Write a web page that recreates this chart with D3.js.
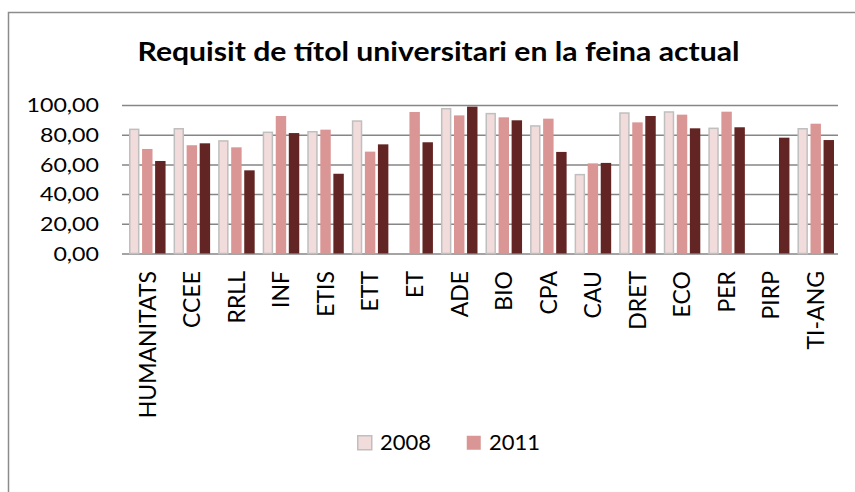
<!DOCTYPE html>
<html>
<head>
<meta charset="utf-8">
<script src="https://cdn.jsdelivr.net/npm/d3@7"></script>
<style>
  body { margin: 0; background: #fff; }
  svg { display: block; font-family: Lato, "Open Sans", sans-serif; }
</style>
</head>
<body>
<div id="chart"></div>
<script>
// dades llegides del grafic
const categories = ["HUMANITATS", "CCEE", "RRLL", "INF", "ETIS", "ETT", "ET", "ADE",
                    "BIO", "CPA", "CAU", "DRET", "ECO", "PER", "PIRP", "TI-ANG"];
const seriesNames = ["2008", "2011", "2014"];
const legendNames = ["2008", "2011"]; // la llegenda original nomes en mostra dos
const values2008 = [83.6, 84.0, 75.8, 81.6, 82.0, 89.2, null, 97.5, 94.2, 85.9, 53.1, 94.6, 95.3, 84.3, null, 84.0];
const values2011 = [70.4, 72.9, 71.5, 92.6, 83.4, 68.6, 95.3, 93.0, 91.7, 90.8, 60.7, 88.3, 93.5, 95.5, null, 87.4];
const values2014 = [62.3, 74.2, 56.0, 81.1, 53.7, 73.5, 74.9, 98.9, 89.7, 68.4, 61.0, 92.6, 84.3, 85.0, 78.0, 76.4];
const yTicks = [0, 20, 40, 60, 80, 100];

const W = 855, H = 492;
const plot = {left: 125, right: 838, top: 105, bottom: 253.5};

const colors = {"2008": "#f2dcdb", "2011": "#d99694", "2014": "#632523"};
const strokes = {"2008": "#bfbfbf", "2011": "none", "2014": "none"};

const loc = d3.formatLocale({decimal: ",", thousands: ".", grouping: [3], currency: ["", "€"]});
const fmt = loc.format(".2f");

const rows = categories.map((c, i) => ({
  cat: c,
  "2008": values2008[i],
  "2011": values2011[i],
  "2014": values2014[i]
}));

const svg = d3.select('#chart').append('svg')
    .attr('width', W)
    .attr('height', H);

// marc exterior del grafic
svg.append('rect')
    .attr('x', 8.5).attr('y', 12.5)
    .attr('width', W + 20).attr('height', H + 20)
    .attr('fill', 'none')
    .attr('stroke', '#8c8c8c')
    .attr('stroke-width', 1.5);

// el text de l'original es una mica mes ample, d'aqui el scale
svg.append('text')
    .attr('transform', 'translate(438.5, 61) scale(1.16, 1)')
    .attr('text-anchor', 'middle')
    .attr('font-weight', 'bold')
    .attr('font-size', 26)
    .text('Requisit de títol universitari en la feina actual');

const x0 = d3.scaleBand()
    .domain(categories)
    .range([plot.left, plot.right])
    .paddingInner(0.18)
    .paddingOuter(0.09);

const x1 = d3.scaleBand()
    .domain(seriesNames)
    .range([0, x0.bandwidth()])
    .paddingInner(0.2);

const y = d3.scaleLinear()
    .domain([0, 100])
    .range([plot.bottom, plot.top]);

// linies de la graella
const yAxis = svg.append('g')
    .attr('transform', `translate(${plot.left}, 0)`)
    .call(d3.axisLeft(y).tickValues(yTicks).tickSize(-(plot.right - plot.left)).tickSizeOuter(0).tickFormat(''));
yAxis.select('.domain').remove();
yAxis.selectAll('.tick line')
    .attr('stroke', '#868686')
    .attr('stroke-width', 1.5)
    .attr('x1', -3);

svg.append('g')
  .selectAll('text')
  .data(yTicks)
  .join('text')
    .attr('transform', d => `translate(99, ${y(d)}) scale(1.16, 1)`)
    .attr('text-anchor', 'end')
    .attr('dy', '0.36em')
    .attr('font-size', 20)
    .text(d => fmt(d));

// barres
const groups = svg.append('g')
  .selectAll('g')
  .data(rows)
  .join('g')
    .attr('transform', d => `translate(${x0(d.cat)}, 0)`);

groups.selectAll('rect')
  .data(d => seriesNames.map(s => ({key: s, value: d[s]})).filter(e => e.value != null))
  .join('rect')
    .attr('x', d => x1(d.key) + (d.key === "2008" ? 0.75 : 0))
    .attr('y', d => y(d.value))
    .attr('width', d => x1.bandwidth() - (d.key === "2008" ? 1.5 : 0))
    .attr('height', d => y(0) - y(d.value))
    .attr('fill', d => colors[d.key])
    .attr('stroke', d => strokes[d.key])
    .attr('stroke-width', 1.5);

// etiquetes de l'eix x, girades
const xAxis = svg.append('g');
xAxis.selectAll('text')
  .data(categories)
  .join('text')
    .attr('transform', d => `translate(${x0(d) + x0.bandwidth() / 2}, 271) rotate(-90)`)
    .attr('text-anchor', 'end')
    .attr('dy', '0.36em')
    .attr('font-size', 23)
    .text(d => d);

// llegenda
const legend = svg.append('g');
const legendX = [357, 466];
legendNames.forEach((s, i) => {
  legend.append('rect')
      .attr('x', legendX[i] + 0.75)
      .attr('y', 435.75)
      .attr('width', 14)
      .attr('height', 14)
      .attr('fill', colors[s])
      .attr('stroke', strokes[s])
      .attr('stroke-width', 1.5);
  legend.append('text')
      .attr('x', legendX[i] + 23)
      .attr('y', 450)
      .attr('font-size', 22)
      .text(s);
});
</script>
</body>
</html>
